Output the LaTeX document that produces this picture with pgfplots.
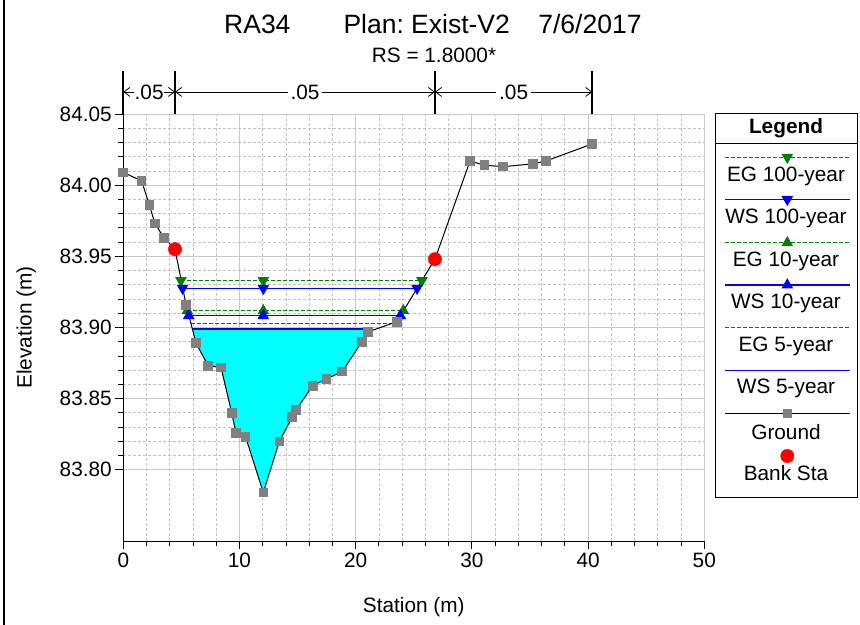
\documentclass[border=0pt]{standalone}
\usepackage{fontspec}
\setmainfont{Liberation Sans}
\usepackage{pgfplots}
\pgfplotsset{compat=1.18}
\usetikzlibrary{arrows.meta}
\definecolor{gridmaj}{RGB}{200,200,200}
\definecolor{gridmin}{RGB}{195,195,195}
\definecolor{egreen}{RGB}{0,128,0}
\definecolor{wblue}{RGB}{0,0,255}
\definecolor{gnd}{RGB}{128,128,128}
\definecolor{water}{RGB}{0,255,255}
\definecolor{bankred}{RGB}{255,0,0}
\newcommand{\fs}{\fontsize{20.8bp}{24bp}\selectfont}
\newcommand{\ft}{\fontsize{26.5bp}{30bp}\selectfont}
\frenchspacing
\begin{document}
\begin{tikzpicture}
\path[use as bounding box] (0,0) rectangle (860bp,625bp);
\draw[line width=2bp] (4bp,0bp) -- (4bp,625bp);
\node[font=\ft, anchor=base west, inner sep=0pt] at (224bp,591.7bp) {RA34};
\node[font=\ft, anchor=base west, inner sep=0pt] at (343.3bp,591.7bp) {Plan: Exist-V2};
\node[font=\ft, anchor=base east, inner sep=0pt] at (641.7bp,591.7bp) {7/6/2017};
\node[font=\fs, anchor=base, inner sep=0pt] at (434bp,562bp) {RS = 1.8000*};

\begin{axis}[
  at={(123.3bp,84bp)}, anchor=south west,
  scale only axis, width=581bp, height=427bp,
  xmin=0, xmax=50, ymin=83.75, ymax=84.05,
  axis x line*=bottom, axis y line*=left,
  axis line style={line width=1bp},
  xtick={0,10,20,30,40,50},
  ytick={83.8,83.85,83.9,83.95,84,84.05},
  minor x tick num=4, minor y tick num=4,
  grid=both,
  major grid style={gridmaj, line width=0.9bp},
  minor grid style={gridmin, line width=0.8bp, dash pattern=on 3bp off 2bp},
  tick align=outside, major tick length=8bp, minor tick length=5bp,
  tick style={black, line width=0.9bp},
  ticklabel style={font=\fs},
  /pgf/number format/assume math mode=true,
  y tick label style={/pgf/number format/fixed, /pgf/number format/fixed zerofill, /pgf/number format/precision=2},
  xlabel={Station (m)}, ylabel={Elevation (m)},
  label style={font=\fs},
  x label style={at={(axis description cs:0.5,-0.1546)}, anchor=center},
  y label style={at={(axis description cs:-0.167,0.5)}, anchor=center},
  clip=false,
]
% water fill
\addplot[fill=water, draw=none] coordinates {
(5.93,83.899)(6.26,83.889)(7.31,83.873)(8.41,83.872)(9.33,83.840)(9.70,83.826)
(10.53,83.823)(12.05,83.784)(13.43,83.820)(14.54,83.837)(14.86,83.842)(16.30,83.859)
(17.50,83.864)(18.84,83.869)(20.54,83.890)(21.08,83.897)(21.5,83.899)};
% EG 100
\addplot[egreen, line width=1.2bp, dash pattern=on 4bp off 2bp, mark=triangle*, mark size=5.5bp, mark options={solid, rotate=180}]
 coordinates {(4.96,83.933)(12.05,83.933)(25.70,83.933)};
% WS 100
\addplot[wblue, line width=1.3bp, mark=triangle*, mark size=5.5bp, mark options={solid, rotate=180}]
 coordinates {(5.10,83.9276)(12.05,83.9276)(25.28,83.9276)};
% EG 10
\addplot[egreen, line width=1.2bp, dash pattern=on 4bp off 2bp, mark=triangle*, mark size=5.5bp, mark options={solid}]
 coordinates {(5.51,83.9118)(12.05,83.9118)(24.10,83.9118)};
% WS 10
\addplot[wblue, line width=1.3bp, mark=triangle*, mark size=5.5bp, mark options={solid}]
 coordinates {(5.63,83.9083)(12.05,83.9083)(23.84,83.9083)};
% EG 5
\addplot[egreen, line width=1.2bp, dash pattern=on 4bp off 2bp]
 coordinates {(5.80,83.9029)(23.50,83.9029)};
% WS 5
\addplot[wblue, line width=1.6bp]
 coordinates {(5.93,83.899)(21.5,83.899)};
% Ground
\addplot[black, line width=1bp, mark=square*, mark size=4.3bp, mark options={gnd, draw=gnd}] coordinates {
(0.00,84.009)(1.58,84.003)(2.24,83.986)(2.73,83.973)(3.50,83.963)(4.45,83.955)
(5.40,83.916)(6.26,83.889)(7.31,83.873)(8.41,83.872)(9.33,83.840)(9.70,83.826)
(10.53,83.823)(12.05,83.784)(13.43,83.820)(14.54,83.837)(14.86,83.842)(16.30,83.859)
(17.50,83.864)(18.84,83.869)(20.54,83.890)(21.08,83.897)(23.53,83.904)(26.82,83.948)
(29.84,84.017)(31.07,84.014)(32.70,84.013)(35.28,84.015)(36.38,84.017)(40.36,84.029)};
% Bank stations
\addplot[only marks, mark=*, mark size=6.7bp, bankred] coordinates {(4.45,83.955)(26.82,83.948)};

% Manning n annotation
\draw[line width=1.6bp] (axis cs:0,84.05) -- (axis cs:0,84.0802);
\draw[line width=1.6bp] (axis cs:4.45,84.05) -- (axis cs:4.45,84.0802);
\draw[line width=1.6bp] (axis cs:26.82,84.05) -- (axis cs:26.82,84.0802);
\draw[line width=1.6bp] (axis cs:40.36,84.05) -- (axis cs:40.36,84.0802);
\draw[{Straight Barb[length=6bp,width=9bp]}-{Straight Barb[length=6bp,width=9bp]}, line width=0.8bp]
  (axis cs:0,84.0655) -- (axis cs:4.45,84.0655) node[midway, fill=white, inner sep=0.5bp, font=\fs] {.05};
\draw[{Straight Barb[length=6bp,width=9bp]}-{Straight Barb[length=6bp,width=9bp]}, line width=0.8bp]
  (axis cs:4.45,84.0655) -- (axis cs:26.82,84.0655) node[midway, fill=white, inner sep=3bp, font=\fs] {.05};
\draw[{Straight Barb[length=6bp,width=9bp]}-{Straight Barb[length=6bp,width=9bp]}, line width=0.8bp]
  (axis cs:26.82,84.0655) -- (axis cs:40.36,84.0655) node[midway, fill=white, inner sep=3bp, font=\fs] {.05};
\end{axis}

% Legend
\begin{axis}[
  at={(715bp,128bp)}, anchor=south west,
  scale only axis, width=142bp, height=383bp,
  xmin=715, xmax=857, ymin=114, ymax=497, y dir=reverse,
  hide axis, clip=false,
]
\draw[black, line width=1bp] (axis cs:715,114) rectangle (axis cs:857,497);
\draw[black, line width=1bp] (axis cs:715,143.3) -- (axis cs:857,143.3);
\node[font=\fs\bfseries] at (axis cs:786,128.5) {Legend};
\addplot[egreen, line width=1.2bp, dash pattern=on 4bp off 2bp, mark=triangle*, mark size=5.5bp, mark options={solid, rotate=180}, mark indices={2}]
 coordinates {(725,157.3)(787.3,157.3)(850,157.3)};
\node[font=\fs] at (axis cs:786,176) {EG 100-year};
\addplot[wblue, line width=1.3bp, mark=triangle*, mark size=5.5bp, mark options={solid, rotate=180}, mark indices={2}]
 coordinates {(725,199.3)(787.3,199.3)(850,199.3)};
\node[font=\fs] at (axis cs:786,218.3) {WS 100-year};
\addplot[egreen, line width=1.2bp, dash pattern=on 4bp off 2bp, mark=triangle*, mark size=5.5bp, mark options={solid}, mark indices={2}]
 coordinates {(725,242.7)(787.3,242.7)(850,242.7)};
\node[font=\fs] at (axis cs:786,261) {EG 10-year};
\addplot[wblue, line width=1.3bp, mark=triangle*, mark size=5.5bp, mark options={solid}, mark indices={2}]
 coordinates {(725,285)(787.3,285)(850,285)};
\node[font=\fs] at (axis cs:786,303.3) {WS 10-year};
\addplot[egreen, line width=1.2bp, dash pattern=on 4bp off 2bp]
 coordinates {(725,327.7)(850,327.7)};
\node[font=\fs] at (axis cs:786,346) {EG 5-year};
\addplot[wblue, line width=1.3bp]
 coordinates {(725,370.7)(850,370.7)};
\node[font=\fs] at (axis cs:786,388.7) {WS 5-year};
\addplot[black, line width=1bp, mark=square*, mark size=4.3bp, mark options={gnd, draw=gnd}, mark indices={2}]
 coordinates {(725,413.3)(787.3,413.3)(850,413.3)};
\node[font=\fs] at (axis cs:786,431.7) {Ground};
\addplot[only marks, mark=*, mark size=6.7bp, bankred] coordinates {(787.3,456)};
\node[font=\fs] at (axis cs:786,473.3) {Bank Sta};
\end{axis}
\end{tikzpicture}
\end{document}
